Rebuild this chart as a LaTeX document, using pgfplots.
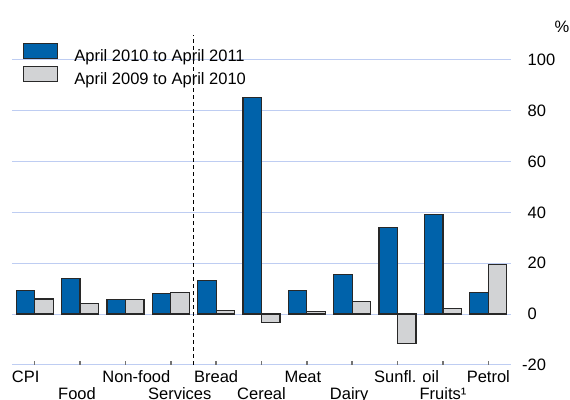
\documentclass[border=0pt]{standalone}
\usepackage{fontspec}
\setmainfont{Liberation Sans}
\usepackage{pgfplots}
\pgfplotsset{compat=1.18}

\definecolor{barblue}{RGB}{0,98,170}
\definecolor{bargray}{RGB}{210,211,213}
\definecolor{gridblue}{RGB}{190,205,242}
\definecolor{edge}{RGB}{40,40,40}

% change in prices, %
% x: 0 CPI, 1 Food, 2 Non-food, 3 Services, 4 Bread, 5 Cereal, 6 Meat, 7 Dairy, 8 Sunfl. oil, 9 Fruits, 10 Petrol
\begin{document}
\fontsize{16.5}{19.8}\selectfont
\begin{tikzpicture}
\begin{axis}[
	scale only axis,
	width=499pt, height=330.2pt,
	xmin=-0.5, xmax=10.5,
	ymin=-20, ymax=110,
	ybar=0pt, bar width=18.5pt,
	axis line style={draw=none},
	xtick={0,...,10},
	xticklabels={CPI\hspace*{18pt},
		\raisebox{-17pt}{Food\hspace*{6pt}},
		\hspace*{22pt}Non-food,
		\raisebox{-17pt}{\hspace*{18pt}Services},
		Bread,
		\raisebox{-17pt}{Cereal},
		Meat\hspace*{8pt},
		\raisebox{-17pt}{Dairy\hspace*{6pt}},
		\hspace*{18pt}Sunfl. oil,
		\raisebox{-17pt}{Fruits¹},
		Petrol},
	xticklabel style={anchor=base, yshift=-17.5pt},
	xtick pos=left,
	tick align=inside,
	major tick length=3.5pt,
	xtick style={black!55, line width=1.6pt},
	ytick={-20,0,...,100},
	yticklabels={\llap{-}20,0,20,40,60,80,100},
	yticklabel pos=right,
	yticklabel style={anchor=west, inner sep=0pt, xshift=16.5pt},
	ytick style={draw=none},
	ymajorgrids,
	grid style={gridblue, line width=1pt},
	clip=false,
	legend style={draw=none, fill=none, inner sep=0pt,
		at={(axis description cs:0.022,0.975)}, anchor=north west,
		nodes={inner xsep=5.5pt, inner ysep=0pt},
		row sep=1.2pt},
	legend cell align=left,
]
\addplot[fill=barblue, draw=edge, line width=1.2pt,
	legend image code/.code={\draw[fill=barblue, draw=edge, line width=1.2pt] (0pt,-1.5pt) rectangle (34pt,13.5pt); \path (44.5pt,0pt);}]
	coordinates {(0,9.4) (1,13.9) (2,5.8) (3,8.0) (4,13.3) (5,85.2) (6,9.2) (7,15.5) (8,34.1) (9,39.2) (10,8.4)};
\addlegendentry{April 2010 to April 2011}
\addplot[fill=bargray, draw=edge, line width=1.2pt,
	legend image code/.code={\draw[fill=bargray, draw=edge, line width=1.2pt] (0pt,-1.5pt) rectangle (34pt,13.5pt); \path (44.5pt,0pt);}]
	coordinates {(0,5.9) (1,4.2) (2,5.8) (3,8.4) (4,1.4) (5,-3.4) (6,0.9) (7,4.9) (8,-11.5) (9,2.1) (10,19.6)};
\addlegendentry{April 2009 to April 2010}
\draw[black, line width=1.1pt, dash pattern=on 3.5pt off 3.5pt] (axis cs:3.5,-20) -- (axis cs:3.5,110);
\node at (axis description cs:1.102,1.023) {\%};
\end{axis}
\pgfresetboundingbox
\path[use as bounding box] ([shift={(-12pt,-34.2pt)}]current axis.south west) rectangle ([shift={(59pt,34.6pt)}]current axis.north east);
\end{tikzpicture}
\end{document}
